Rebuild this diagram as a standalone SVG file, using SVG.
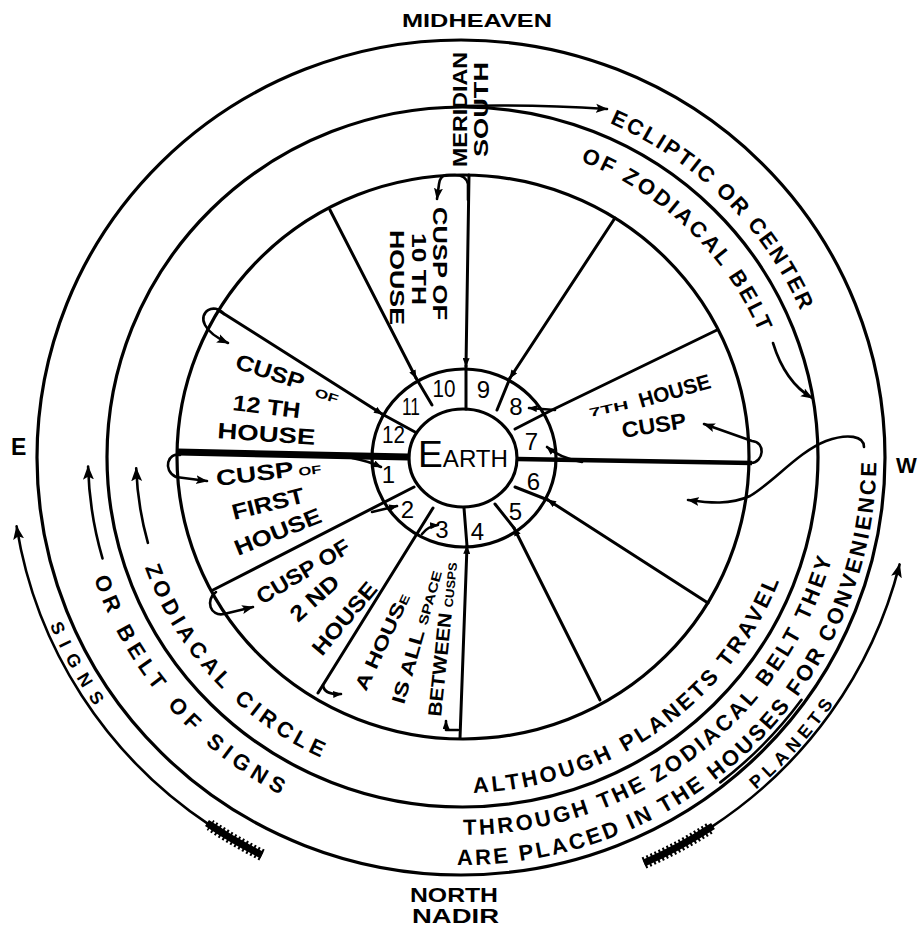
<svg xmlns="http://www.w3.org/2000/svg" width="919" height="927" viewBox="0 0 919 927">
<style>
.ln{fill:none;stroke:#000;stroke-width:3.2;stroke-linecap:round;stroke-linejoin:round}
.cl{fill:none;stroke:#000;stroke-width:3;stroke-linecap:round;stroke-linejoin:round}
.ar{fill:none;stroke:#000;stroke-width:2.6;stroke-linecap:round;stroke-linejoin:round}
.t{font-family:"Liberation Sans",Arial,sans-serif;font-weight:700;fill:#000}
.n{font-family:"Liberation Sans",Arial,sans-serif;font-weight:400;fill:#000}
</style>
<defs>
<marker id="ah" viewBox="0 0 12 10" refX="11" refY="5" markerWidth="12" markerHeight="10" markerUnits="userSpaceOnUse" orient="auto"><path d="M0,0.5 L12,5 L0,9.5 L2.5,5 z"/></marker>
<marker id="sm" viewBox="0 0 10 8" refX="9" refY="4" markerWidth="9" markerHeight="7" markerUnits="userSpaceOnUse" orient="auto"><path d="M0,0 L10,4 L0,8 z"/></marker>
<marker id="big" viewBox="0 0 14 12" refX="13" refY="6" markerWidth="14" markerHeight="12" markerUnits="userSpaceOnUse" orient="auto"><path d="M0,0.5 L14,6 L0,11.5 L3,6 z"/></marker>
<path id="pEcl" d="M 609.4,123.2 A 369.8,364 0 0 1 802.4,314.8"/>
<path id="pOzb" d="M 580.4,161.1 A 323.1,318 0 0 1 762.6,340.5"/>
<path id="pAlt" d="M 473.3,792.8 A 341.4,336 0 0 0 783.6,569.7"/>
<path id="pThr" d="M 463.3,835 A 384,378 0 0 0 834.6,548.5"/>
<path id="pAre" d="M 457,865 A 414.5,408 0 0 0 876.5,453.4"/>
<path id="pZc" d="M 145,567.5 A 336.3,331 0 0 0 327.9,760.6"/>
<path id="pObs" d="M 94,578.2 A 388.1,382 0 0 0 288.8,798.9"/>
<path id="pSig" d="M 49.9,625 A 446,439 0 0 0 96.6,708.8"/>
<path id="pPla" d="M 756,789.8 A 448.1,441 0 0 0 835.7,700.4"/>
</defs>
<rect width="919" height="927" fill="#fff"/>

<g id="rings">
<ellipse cx="461" cy="457.5" rx="424" ry="417.5" class="ln"/>
<ellipse cx="462.5" cy="457" rx="355.5" ry="350" class="ln"/>
<ellipse cx="463" cy="457" rx="286" ry="282" class="ln"/>
<ellipse cx="464" cy="458" rx="92" ry="89" class="ln"/>
</g>

<g id="cusps">
<line x1="178" y1="452" x2="408" y2="457" stroke="#000" stroke-width="7"/>
<line x1="517" y1="459" x2="752" y2="463" stroke="#000" stroke-width="4.5"/>
<path class="cl" d="M 213,590 L 414,487"/>
<path class="cl" d="M 318,693 L 433,508"/>
<path class="cl" d="M 460,738 L 467,546" marker-end="url(#sm)"/>
<path class="cl" d="M 467,546 L 464,508"/>
<path class="cl" d="M 600,700 L 514,528" marker-end="url(#sm)"/>
<path class="cl" d="M 514,528 L 495,504"/>
<path class="cl" d="M 708,603 L 548,500" marker-end="url(#sm)"/>
<path class="cl" d="M 548,500 L 515,487"/>
<path class="cl" d="M 717,330 L 552,410 L 515,429"/>
<path class="cl" d="M 615,218 L 510,378" marker-end="url(#sm)"/>
<path class="cl" d="M 510,378 L 497,410"/>
<path class="cl" d="M 469,175 L 466,366" marker-end="url(#sm)"/>
<path class="cl" d="M 466,366 L 466,409"/>
<path class="cl" d="M 330,210 L 416,378" marker-end="url(#sm)"/>
<path class="cl" d="M 416,378 L 432,405"/>
<path class="cl" d="M 218,310 L 382,414" marker-end="url(#sm)"/>
<path class="cl" d="M 382,414 L 415,432"/>
</g>

<g id="earth">
<ellipse cx="463" cy="458" rx="54" ry="49" fill="#fff" class="ln"/>
<text class="n" x="418" y="467" textLength="90" lengthAdjust="spacingAndGlyphs"><tspan font-size="37">E</tspan><tspan font-size="24">ARTH</tspan></text>
</g>

<g id="house-numbers" class="n" font-size="24" text-anchor="middle">
<text x="444" y="397" textLength="23" lengthAdjust="spacingAndGlyphs">10</text>
<text x="483.5" y="398">9</text>
<text x="516" y="415">8</text>
<text x="531.5" y="450">7</text>
<text x="533.5" y="490">6</text>
<text x="515.5" y="520">5</text>
<text x="477.5" y="540">4</text>
<text x="442" y="538">3</text>
<text x="407.5" y="518">2</text>
<text x="388.5" y="483">1</text>
<text x="393.5" y="443" textLength="23" lengthAdjust="spacingAndGlyphs">12</text>
<text x="411" y="415" textLength="18" lengthAdjust="spacingAndGlyphs">11</text>
</g>

<g id="connectors">
<path class="ar" d="M 458,106 Q 530,104 607,109" marker-end="url(#ah)"/>
<path class="ar" d="M 468,200 L 468,184 Q 466,175 455,175 L 446,175 Q 440,176 439,184 L 437,199" marker-end="url(#ah)"/>
<path class="ar" d="M 224,314 C 214,302 198,312 205,325 C 209,333 217,338 228,343" marker-end="url(#ah)"/>
<path class="ar" d="M 180,455 C 168,452 162,470 176,477 L 207,481" marker-end="url(#ah)"/>
<path class="ar" d="M 216,592 C 205,600 210,617 224,614 L 253,607" marker-end="url(#ah)"/>
<path class="ar" d="M 751,463 C 764,462 766,442 752,441 L 704,424" marker-end="url(#ah)"/>
<path class="ar" d="M 773,343 Q 785,382 812,398" marker-end="url(#ah)"/>
<path class="ar" d="M 864,447 C 864,436 848,433 826,441 C 798,452 775,481 750,496 C 730,505 710,503 688,500" marker-end="url(#ah)"/>
<path class="ar" d="M 582,462 Q 560,458 547,447" marker-end="url(#sm)"/>
<path class="ar" d="M 555,410 L 529,408" marker-end="url(#sm)"/>
<path class="ar" d="M 352,458 Q 368,461 381,467" marker-end="url(#sm)"/>
<path class="ar" d="M 372,512 L 397,506" marker-end="url(#sm)"/>
<path class="ar" d="M 422,534 Q 428,526 438,525" marker-end="url(#sm)"/>
<path class="ar" d="M 323,685 Q 324,695 341,694" marker-end="url(#sm)"/>
<path class="ar" d="M 458,730 L 446,730 L 446,721" marker-end="url(#sm)"/>
<path class="ar" d="M 102.5,558.4 A 374,368 0 0 1 88.1,466.6" stroke-width="3" marker-end="url(#big)"/>
<path class="ar" d="M 147.9,542.8 A 326,321 0 0 1 136.2,468.2" stroke-width="3" marker-end="url(#big)"/>
<path class="ar" d="M 209.8,825.1 A 451,444 0 0 1 16.6,526.4" marker-end="url(#big)"/>
<path class="ar" d="M 710.9,827.3 A 451,444 0 0 0 899.6,564.4" marker-end="url(#big)"/>
<path d="M 262,855 A 451,444 0 0 1 207,823" fill="none" stroke="#000" stroke-width="7"/>
<path d="M 262,855 A 451,444 0 0 1 210,825" fill="none" stroke="#000" stroke-width="12" stroke-dasharray="2 2.5"/>
<path d="M 644,863 A 451,444 0 0 0 713,826" fill="none" stroke="#000" stroke-width="7"/>
<path d="M 644,863 A 451,444 0 0 0 710,828" fill="none" stroke="#000" stroke-width="12" stroke-dasharray="2 2.5"/>
<path class="ar" d="M 720.3,782.4 A 419.6,413 0 0 0 801.5,699.8"/>
</g>

<g id="label-compass" class="t">
<text x="402" y="27" font-size="19" textLength="150" lengthAdjust="spacingAndGlyphs">MIDHEAVEN</text>
<text x="11" y="455" font-size="23">E</text>
<text x="896" y="473" font-size="22">W</text>
<text x="410" y="902" font-size="20" textLength="88" lengthAdjust="spacingAndGlyphs">NORTH</text>
<text x="412" y="923" font-size="21" textLength="87" lengthAdjust="spacingAndGlyphs">NADIR</text>
<text transform="translate(467,167) rotate(-90)" font-size="20" textLength="115" lengthAdjust="spacingAndGlyphs">MERIDIAN</text>
<text transform="translate(488,157) rotate(-90)" font-size="20" textLength="95" lengthAdjust="spacingAndGlyphs">SOUTH</text>
</g>

<g id="label-ecliptic" class="t" font-size="22" letter-spacing="2.23">
<text><textPath href="#pEcl" startOffset="0">ECLIPTIC</textPath></text>
<text><textPath href="#pEcl" startOffset="126.4">OR</textPath></text>
<text><textPath href="#pEcl" startOffset="172.2">CENTER</textPath></text>
</g>
<g id="label-zodiacal-belt" class="t" font-size="22" letter-spacing="2.76">
<text><textPath href="#pOzb" startOffset="0">OF</textPath></text>
<text><textPath href="#pOzb" startOffset="45">ZODIACAL</textPath></text>
<text><textPath href="#pOzb" startOffset="189.6">BELT</textPath></text>
</g>
<g id="label-although" class="t" font-size="22" letter-spacing="3.06">
<text><textPath href="#pAlt" startOffset="0">ALTHOUGH</textPath></text>
<text><textPath href="#pAlt" startOffset="158.3">PLANETS</textPath></text>
<text><textPath href="#pAlt" startOffset="291.6">TRAVEL</textPath></text>
</g>
<g id="label-through" class="t" font-size="22" letter-spacing="2.92">
<text><textPath href="#pThr" startOffset="0">THROUGH</textPath></text>
<text><textPath href="#pThr" startOffset="140.7">THE</textPath></text>
<text><textPath href="#pThr" startOffset="202.4">ZODIACAL</textPath></text>
<text><textPath href="#pThr" startOffset="348.5">BELT</textPath></text>
<text><textPath href="#pThr" startOffset="426.6">THEY</textPath></text>
</g>
<g id="label-placed" class="t" font-size="22" letter-spacing="2.7">
<text><textPath href="#pAre" startOffset="0">ARE</textPath></text>
<text><textPath href="#pAre" startOffset="63.3">PLACED</textPath></text>
<text><textPath href="#pAre" startOffset="178.7">IN</textPath></text>
<text><textPath href="#pAre" startOffset="214.9">THE</textPath></text>
<text><textPath href="#pAre" startOffset="275.8">HOUSES</textPath></text>
<text><textPath href="#pAre" startOffset="393.7">FOR</textPath></text>
<text><textPath href="#pAre" startOffset="457">CONVENIENCE</textPath></text>
</g>
<g id="label-zodiacal-circle" class="t" font-size="22" letter-spacing="4.55">
<text><textPath href="#pZc" startOffset="0">ZODIACAL</textPath></text>
<text><textPath href="#pZc" startOffset="160.8">CIRCLE</textPath></text>
</g>
<g id="label-belt-of-signs" class="t" font-size="22" letter-spacing="5.64">
<text><textPath href="#pObs" startOffset="0">OR</textPath></text>
<text><textPath href="#pObs" startOffset="56">BELT</textPath></text>
<text><textPath href="#pObs" startOffset="147.7">OF</textPath></text>
<text><textPath href="#pObs" startOffset="201.3">SIGNS</textPath></text>
</g>
<g id="label-arrows" class="t" font-size="18">
<text><textPath href="#pSig" textLength="93" lengthAdjust="spacing">SIGNS</textPath></text>
<text><textPath href="#pPla" textLength="116" lengthAdjust="spacing">PLANETS</textPath></text>
</g>

<g id="label-10th" class="t" font-size="20">
<text transform="translate(433,207) rotate(90)" textLength="113" lengthAdjust="spacingAndGlyphs">CUSP OF</text>
<text transform="translate(412,233) rotate(90)" textLength="72" lengthAdjust="spacingAndGlyphs">10 TH</text>
<text transform="translate(390,230) rotate(90)" textLength="95" lengthAdjust="spacingAndGlyphs">HOUSE</text>
</g>

<g id="label-12th" class="t" font-size="22">
<text transform="translate(234,368) rotate(18)" textLength="71" lengthAdjust="spacingAndGlyphs">CUSP</text>
<text transform="translate(314,396) rotate(18)" font-size="12" textLength="24" lengthAdjust="spacingAndGlyphs">OF</text>
<text transform="translate(232,410) rotate(7)" textLength="68" lengthAdjust="spacingAndGlyphs">12 TH</text>
<text transform="translate(217,438) rotate(4)" textLength="98" lengthAdjust="spacingAndGlyphs">HOUSE</text>
</g>

<g id="label-1st" class="t" font-size="22">
<text transform="translate(217,486) rotate(-7)" textLength="78" lengthAdjust="spacingAndGlyphs">CUSP</text>
<text transform="translate(299,476) rotate(-7)" font-size="12" textLength="23" lengthAdjust="spacingAndGlyphs">OF</text>
<text transform="translate(234,520) rotate(-14)" textLength="74" lengthAdjust="spacingAndGlyphs">FIRST</text>
<text transform="translate(238,556) rotate(-22)" textLength="92" lengthAdjust="spacingAndGlyphs">HOUSE</text>
</g>

<g id="label-2nd" class="t" font-size="22">
<text transform="translate(262,605) rotate(-31)" textLength="105" lengthAdjust="spacingAndGlyphs">CUSP OF</text>
<text transform="translate(298,623) rotate(-42)" textLength="58" lengthAdjust="spacingAndGlyphs">2 ND</text>
<text transform="translate(322,657) rotate(-50)" textLength="88" lengthAdjust="spacingAndGlyphs">HOUSE</text>
</g>

<g id="label-house-space" class="t" font-size="19">
<text transform="translate(366,692) rotate(-65)" textLength="105" lengthAdjust="spacingAndGlyphs">A HOUS<tspan font-size="12">E</tspan></text>
<text transform="translate(404,705) rotate(-74)" textLength="138" lengthAdjust="spacingAndGlyphs">IS ALL <tspan font-size="13">SPACE</tspan></text>
<text transform="translate(441,717) rotate(-84)" textLength="155" lengthAdjust="spacingAndGlyphs">BETWEEN <tspan font-size="12">CUSPS</tspan></text>
</g>

<g id="label-7th" class="t" font-size="21">
<text transform="translate(590,417) rotate(-12)" font-size="12" textLength="40" lengthAdjust="spacingAndGlyphs">7TH</text>
<text transform="translate(641,408) rotate(-16)" textLength="74" lengthAdjust="spacingAndGlyphs">HOUSE</text>
<text transform="translate(623,438) rotate(-9)" font-size="22" textLength="65" lengthAdjust="spacingAndGlyphs">CUSP</text>
</g>
</svg>
